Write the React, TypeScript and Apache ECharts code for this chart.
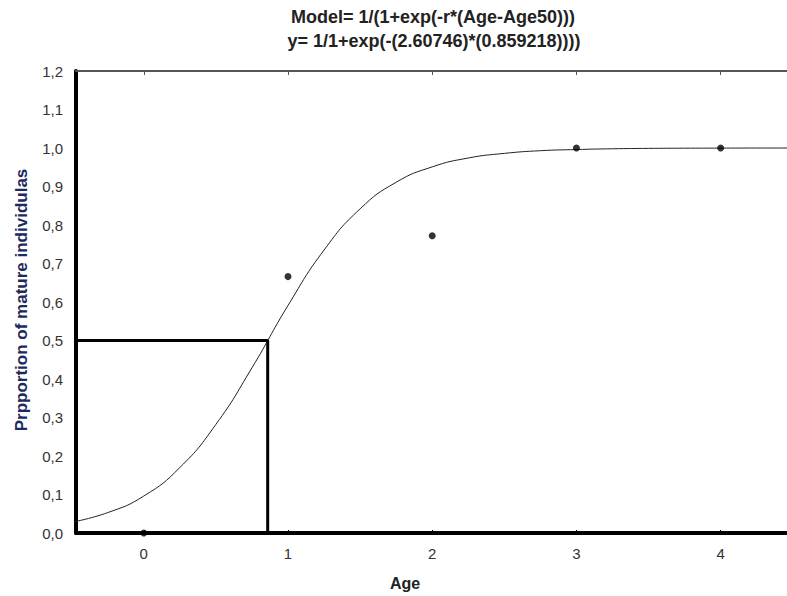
import React, { useEffect, useRef } from "react";
import * as echarts from "echarts";

const titleLines = [
  "Model= 1/(1+exp(-r*(Age-Age50)))",
  "y= 1/1+exp(-(2.60746)*(0.859218))))",
];
const xName = "Age";
const yName = "Prpportion of mature individulas";

const xTicks = [0, 1, 2, 3, 4];

// observed points (Age, proportion)
const obsAge = [0, 1, 2, 3, 4];
const obsProp = [0.0, 0.666, 0.772, 1.0, 1.0];

// fitted logistic curve
const curveAge = [
  -0.5, -0.25, 0, 0.25, 0.5, 0.75, 1, 1.25, 1.5, 1.75, 2, 2.25, 2.5, 2.75, 3,
  3.25, 3.5, 3.75, 4, 4.25, 4.5,
];
const curveProp = [
  0.028, 0.053, 0.096, 0.17, 0.282, 0.429, 0.591, 0.735, 0.842, 0.911, 0.951,
  0.974, 0.986, 0.993, 0.996, 0.998, 0.999, 0.9995, 0.9997, 0.9999, 0.9999,
];

// Age50 reference lines
const age50 = 0.859218;
const refAge = [-0.5, age50, age50];
const refProp = [0.5, 0.5, 0];

export default function App() {
  const ref = useRef<HTMLDivElement>(null);
  useEffect(() => {
    if (!ref.current) return;
    const chart = echarts.init(ref.current, null, { renderer: "svg" });
    const font = "Arial, 'Liberation Sans', sans-serif";
    chart.setOption({
      animation: false,
      backgroundColor: "#ffffff",
      textStyle: { fontFamily: font },
      grid: { left: 76, right: 0, top: 71, bottom: 63 },
      xAxis: [
        {
          type: "value",
          min: -0.47,
          max: 4.46,
          position: "bottom",
          axisLine: { show: true, onZero: false, lineStyle: { color: "#000", width: 4 } },
          axisTick: { show: true, inside: true, length: 3, customValues: xTicks, lineStyle: { color: "#000" } },
          axisLabel: {
            customValues: xTicks,
            color: "#333",
            fontSize: 15,
            fontFamily: font,
            margin: 13,
            formatter: (v: number) => String(Math.round(v)),
          },
          splitLine: { show: false },
        },
        {
          type: "value",
          min: -0.47,
          max: 4.46,
          position: "top",
          axisLine: { show: true, onZero: false, lineStyle: { color: "#555", width: 2 } },
          axisTick: { show: true, inside: true, length: 4, customValues: xTicks, lineStyle: { color: "#555" } },
          axisLabel: { show: false },
          splitLine: { show: false },
        },
      ],
      yAxis: {
        type: "value",
        min: 0,
        max: 1.2,
        interval: 0.1,
        axisLine: { show: true, onZero: false, lineStyle: { color: "#000", width: 4 } },
        axisTick: { show: false },
        axisLabel: {
          color: "#333",
          fontSize: 15,
          fontFamily: font,
          margin: 13,
          formatter: (v: number) => v.toFixed(1).replace(".", ","),
        },
        splitLine: { show: false },
      },
      graphic: [
        {
          type: "text",
          x: 433,
          y: 17,
          style: {
            text: titleLines[0],
            fontSize: 18,
            fontWeight: "bold",
            fontFamily: font,
            fill: "#222",
            textAlign: "center",
            textVerticalAlign: "middle",
          },
        },
        {
          type: "text",
          x: 434,
          y: 41,
          style: {
            text: titleLines[1],
            fontSize: 18,
            fontWeight: "bold",
            fontFamily: font,
            fill: "#222",
            textAlign: "center",
            textVerticalAlign: "middle",
          },
        },
        {
          type: "text",
          x: 405,
          y: 583,
          style: {
            text: xName,
            fontSize: 16,
            fontWeight: "bold",
            fontFamily: font,
            fill: "#222",
            textAlign: "center",
            textVerticalAlign: "middle",
          },
        },
        {
          type: "text",
          x: 21,
          y: 300,
          rotation: Math.PI / 2,
          style: {
            text: yName,
            fontSize: 17,
            fontWeight: "bold",
            fontFamily: font,
            fill: "#1c2a5e",
            textAlign: "center",
            textVerticalAlign: "middle",
          },
        },
      ],
      series: [
        {
          type: "line",
          data: curveAge.map((a, i) => [a, curveProp[i]]),
          smooth: true,
          showSymbol: false,
          lineStyle: { color: "#222", width: 1 },
          z: 2,
        },
        {
          type: "line",
          data: refAge.map((a, i) => [a, refProp[i]]),
          showSymbol: false,
          lineStyle: { color: "#000", width: 3 },
          z: 3,
        },
        {
          type: "scatter",
          data: obsAge.map((a, i) => [a, obsProp[i]]),
          symbol: "circle",
          symbolSize: 7,
          itemStyle: { color: "#000" },
          z: 4,
        },
      ],
    });
    return () => chart.dispose();
  }, []);
  return (
    <div
      ref={ref}
      style={{ position: "absolute", left: 0, top: 0, width: 787, height: 596 }}
    />
  );
}
